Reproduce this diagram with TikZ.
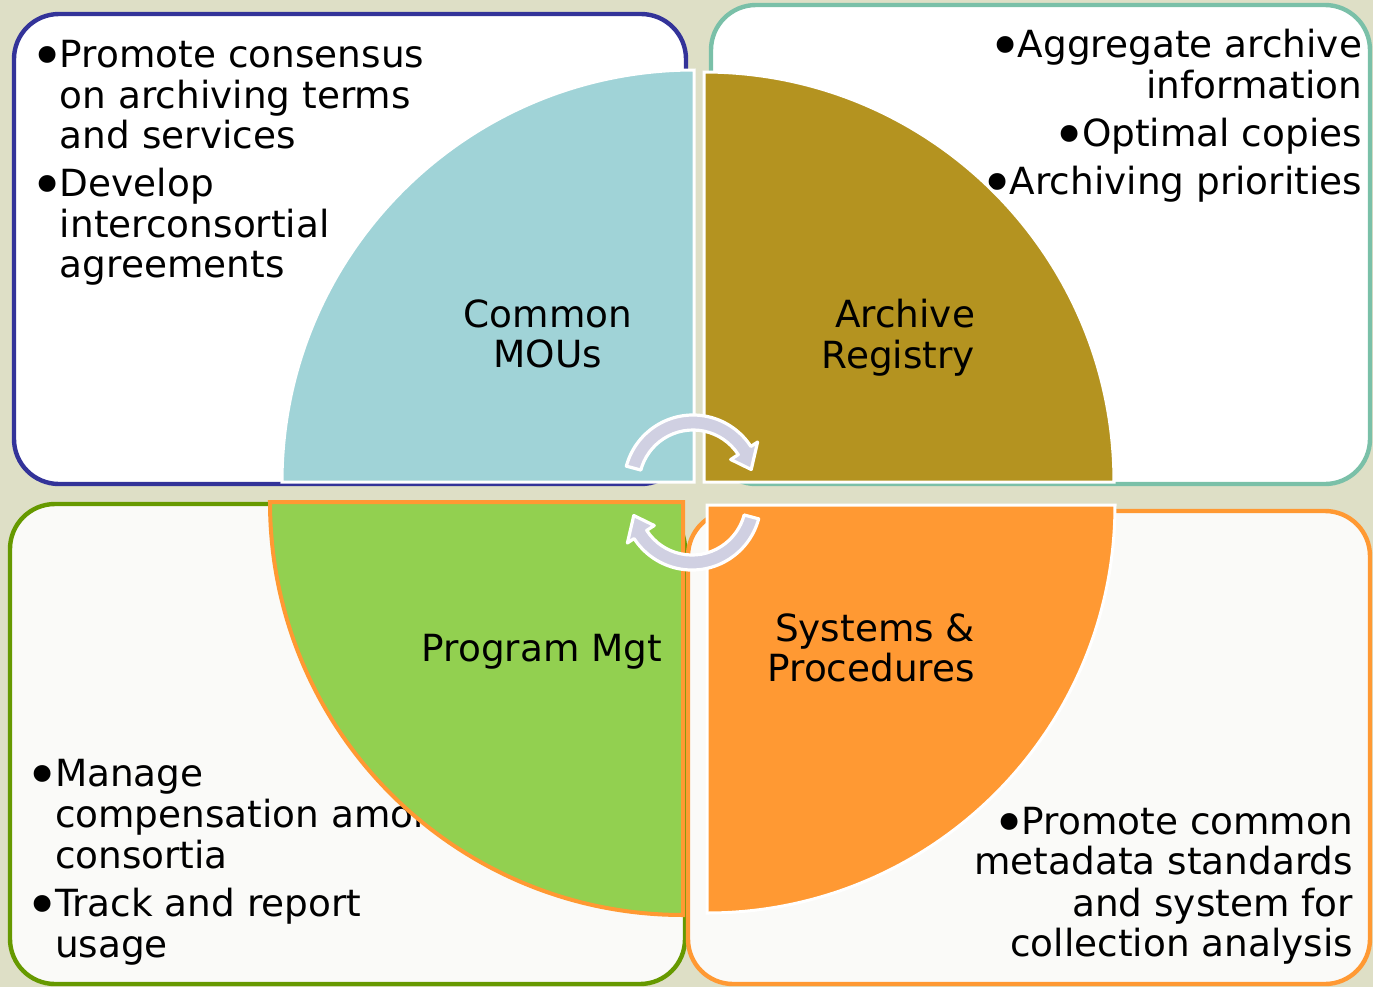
\documentclass[tikz,border=0pt]{standalone}
\usepackage{graphicx}
\usepackage{fontspec}
\setmainfont{DejaVu Sans}
\definecolor{bg}{RGB}{222,223,198}
\definecolor{boxblue}{RGB}{51,51,153}
\definecolor{boxteal}{RGB}{122,192,168}
\definecolor{boxgreen}{RGB}{102,153,0}
\definecolor{boxorange}{RGB}{255,153,51}
\definecolor{offwhite}{RGB}{250,250,248}
\definecolor{qblue}{RGB}{160,211,215}
\definecolor{qolive}{RGB}{180,147,32}
\definecolor{qgreen}{RGB}{146,208,80}
\definecolor{qorange}{RGB}{255,153,51}
\definecolor{lav}{RGB}{208,208,226}
\newcommand{\bul}{\raisebox{-0.25em}[0pt][0pt]{\scalebox{1.55}{•}}\kern-2.5pt}
\begin{document}
\begin{tikzpicture}[x=0.5pt,y=-0.5pt,
  txt/.style={font=\fontsize{18.7}{20.5}\selectfont, inner sep=0pt, outer sep=0pt, text=black},
  lw/.style={txt, anchor=base west},
  le/.style={txt, anchor=base east},
  lc/.style={txt, anchor=base},
  box/.style={line width=2.2pt, rounded corners=22.5pt},
  quad/.style={draw=white, line width=1.5pt, line join=miter},
  arrowshape/.style={fill=lav, draw=white, line width=1.6pt, line join=round}]
\fill[bg] (0,0) rectangle (1373,987);
\useasboundingbox (0,0) rectangle (1373,987);
% boxes
\draw[box, draw=boxblue, fill=white] (14,14) rectangle (686,484);
\draw[box, draw=boxteal, fill=white] (711,5) rectangle (1370,484);
\draw[box, draw=boxgreen, fill=offwhite] (10,504) rectangle (685,984);
\draw[box, draw=boxorange, fill=offwhite] (688,511) rectangle (1370,984);
% top-left text
\node[lw] (tl1) at (60,67) {\llap{\bul}Promote consensus};
\node[lw] (tl2) at (60,108) {on archiving terms};
\node[lw] (tl3) at (60,148) {and services};
\node[lw] (tl4) at (60,196) {\llap{\bul}Develop};
\node[lw] (tl5) at (60,237) {interconsortial};
\node[lw] (tl6) at (60,277) {agreements};
% top-right text
\node[le] (tr1) at (1362,57) {\bul Aggregate archive};
\node[le] (tr2) at (1362,98) {information};
\node[le] (tr3) at (1362,146) {\bul Optimal copies};
\node[le] (tr4) at (1362,194) {\bul Archiving priorities};
% bottom-left text
\node[lw] (bl1) at (55,786) {\llap{\bul}Manage};
\node[lw] (bl2) at (55,827) {compensation among};
\node[lw] (bl3) at (55,868) {consortia};
\node[lw] (bl4) at (55,916) {\llap{\bul}Track and report};
\node[lw] (bl5) at (55,957) {usage};
% bottom-right text
\node[le] (br1) at (1353,834) {\bul Promote common};
\node[le] (br2) at (1353,874) {metadata standards};
\node[le] (br3) at (1353,916) {and system for};
\node[le] (br4) at (1353,956) {collection analysis};
% pie quadrants
\path[quad, fill=qblue] (694,482) -- ++(180:412) arc[start angle=180, end angle=270, radius=412] -- cycle;
\path[quad, fill=qolive] (704,482) -- ++(270:410) arc[start angle=270, end angle=360, radius=410] -- cycle;
\path[quad, fill=qorange] (707,505) -- ++(0:408) arc[start angle=0, end angle=90, radius=408] -- cycle;
\path[quad, draw=boxorange, line width=2pt, fill=qgreen] (683,502) -- ++(90:413) arc[start angle=90, end angle=180, radius=413] -- cycle;
% pie labels
\node[lc] (mou1) at (548,327) {Common};
\node[lc] (mou2) at (548,367) {MOUs};
\node[le] (reg1) at (975,327) {Archive};
\node[le] (reg2) at (975,368) {Registry};
\node[lc] (pm) at (542,661) {Program Mgt};
\node[le] (sp1) at (975,641) {Systems \&};
\node[le] (sp2) at (975,681) {Procedures};
% circular arrows
\begin{scope}[shift={(693,484)}]
\path[arrowshape] (195:69) arc[start angle=195, end angle=327, radius=69] -- (327:77) -- (346:60) -- (327:45) -- (327:54) arc[start angle=327, end angle=195, radius=54] -- cycle;
\end{scope}
\begin{scope}[shift={(692,501)}]
\path[arrowshape] (15:69) arc[start angle=15, end angle=147, radius=69] -- (147:77) -- (166:60) -- (147:45) -- (147:54) arc[start angle=147, end angle=15, radius=54] -- cycle;
\end{scope}
\end{tikzpicture}
\end{document}
